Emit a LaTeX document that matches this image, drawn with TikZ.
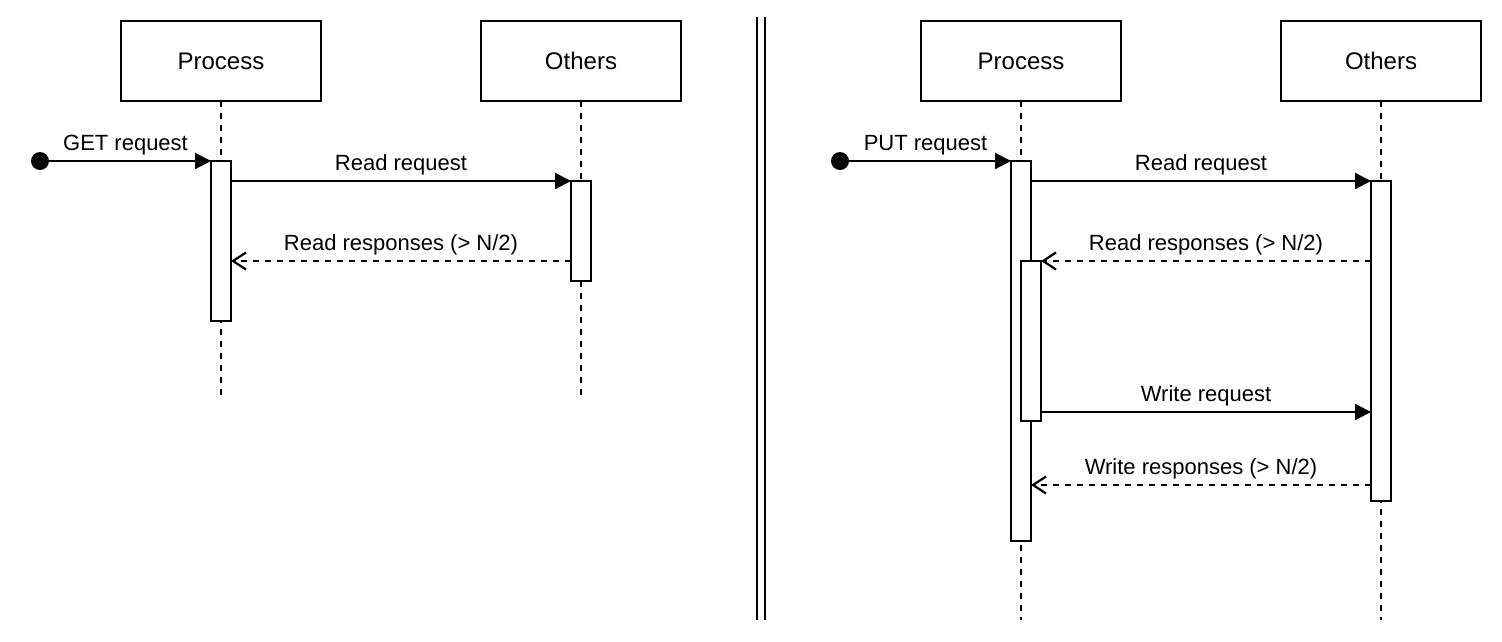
\documentclass[tikz,border=0pt]{standalone}
\usepackage{fontspec}
\setmainfont{Liberation Sans}
\usetikzlibrary{arrows.meta}
\begin{document}
\begin{tikzpicture}[x=1pt,y=-1pt,line width=2.2pt,
  every node/.style={font=\fontsize{22}{26}\selectfont},
  actor/.style={draw,fill=white,minimum width=200pt,minimum height=80pt,inner sep=0pt,outer sep=0pt,
    font=\fontsize{24}{28}\selectfont},
  bar/.style={draw,fill=white,minimum width=20pt,inner sep=0pt,outer sep=0pt},
  lifeline/.style={dash pattern=on 6pt off 6pt},
  startdot/.style={circle,fill=black,minimum size=18pt,inner sep=0pt},
  msg/.style={-{Triangle[length=16pt,width=16pt]}},
  reply/.style={dash pattern=on 6pt off 6pt,-{Straight Barb[length=13pt,width=17pt,line width=2.2pt]}},
  lbl/.style={above,inner sep=5pt}]
\useasboundingbox (0,0) rectangle (1502,642);

% ---- left diagram: GET ----
\node[actor] (pa) at (221,61) {Process};
\node[actor] (oa) at (581,61) {Others};
\coordinate (pa-end) at (221,395);
\coordinate (oa-end) at (581,395);
\draw[lifeline] (pa.south) -- (pa-end);
\draw[lifeline] (oa.south) -- (oa-end);

\node[bar,minimum height=160pt] (pa1) at (221,241) {};
\node[bar,minimum height=100pt] (oa1) at (581,231) {};
\node[startdot] (sa) at (40,161) {};

\draw[msg] (sa.center) -- node[lbl] {GET request} (pa1.north west);
\draw[msg] (pa1.east |- oa1.north) -- node[lbl] {Read request} (oa1.north west);
\draw[reply] (oa1.west |- 0,261) -- node[lbl] {Read responses (> N/2)} (pa1.east |- 0,261);

% ---- separator ----
\coordinate (sep1t) at (757,17);
\coordinate (sep1b) at (757,620);
\coordinate (sep2t) at (765,17);
\coordinate (sep2b) at (765,620);
\draw (sep1t) -- (sep1b);
\draw (sep2t) -- (sep2b);

% ---- right diagram: PUT ----
\node[actor] (pb) at (1021,61) {Process};
\node[actor] (ob) at (1381,61) {Others};
\coordinate (pb-end) at (1021,620);
\coordinate (ob-end) at (1381,620);
\draw[lifeline] (pb.south) -- (pb-end);
\draw[lifeline] (ob.south) -- (ob-end);

\node[bar,minimum height=380pt] (pb1) at (1021,351) {};
\node[bar,minimum height=160pt] (pb2) at (1031,341) {};
\node[bar,minimum height=320pt] (ob1) at (1381,341) {};
\node[startdot] (sb) at (840,161) {};

\draw[msg] (sb.center) -- node[lbl] {PUT request} (pb1.north west);
\draw[msg] (pb1.east |- ob1.north) -- node[lbl] {Read request} (ob1.north west);
\draw[reply] (ob1.west |- pb2.north) -- node[lbl] {Read responses (> N/2)} (pb2.north east);
\draw[msg] (pb2.east |- 0,412) -- node[lbl] {Write request} (ob1.west |- 0,412);
\draw[reply] (ob1.west |- 0,485) -- node[lbl] {Write responses (> N/2)} (pb1.east |- 0,485);
\end{tikzpicture}
\end{document}
